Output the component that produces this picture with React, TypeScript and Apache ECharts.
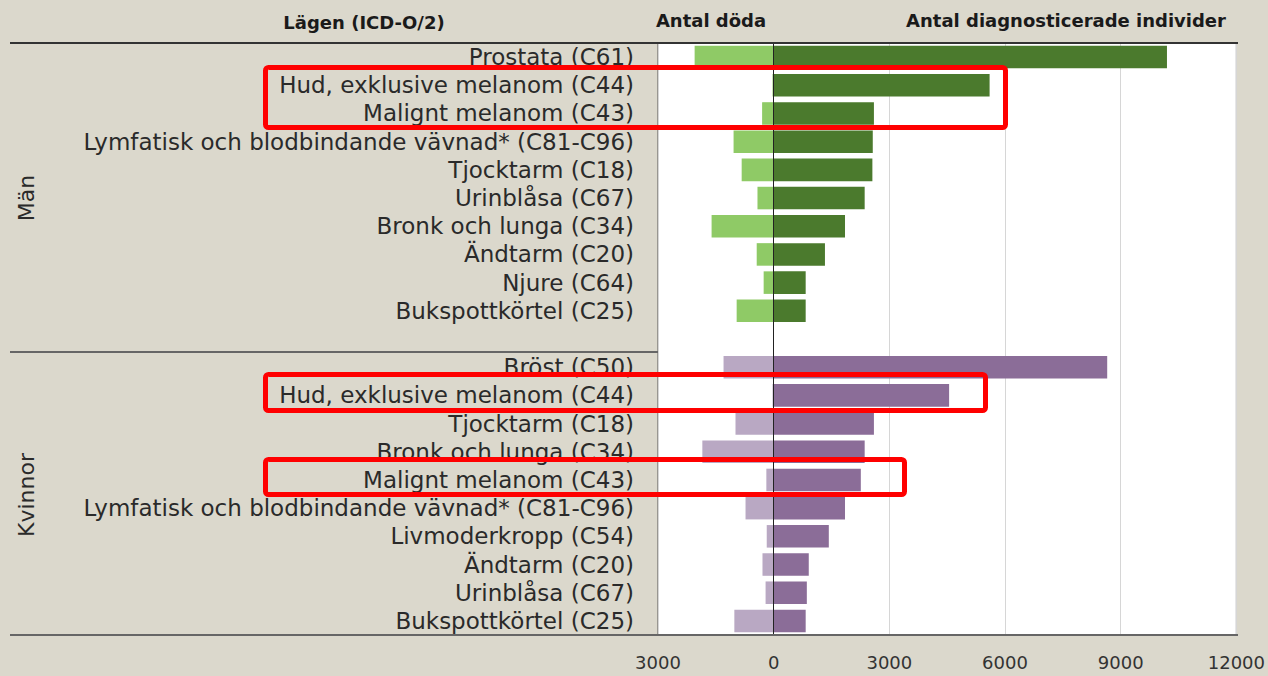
import React, { useEffect, useRef } from "react";
import * as echarts from "echarts";

const menLabels = [
  "Prostata (C61)",
  "Hud, exklusive melanom (C44)",
  "Malignt melanom (C43)",
  "Lymfatisk och blodbindande vävnad* (C81-C96)",
  "Tjocktarm (C18)",
  "Urinblåsa (C67)",
  "Bronk och lunga (C34)",
  "Ändtarm (C20)",
  "Njure (C64)",
  "Bukspottkörtel (C25)",
];
const menDeaths = [2050, 30, 300, 1040, 830, 420, 1610, 440, 260, 960];
const menDiagnosed = [10200, 5600, 2600, 2570, 2560, 2360, 1850, 1330, 830, 830];

const womenLabels = [
  "Bröst (C50)",
  "Hud, exklusive melanom (C44)",
  "Tjocktarm (C18)",
  "Bronk och lunga (C34)",
  "Malignt melanom (C43)",
  "Lymfatisk och blodbindande vävnad* (C81-C96)",
  "Livmoderkropp (C54)",
  "Ändtarm (C20)",
  "Urinblåsa (C67)",
  "Bukspottkörtel (C25)",
];
const womenDeaths = [1300, 30, 990, 1850, 190, 730, 180, 290, 210, 1020];
const womenDiagnosed = [8650, 4550, 2600, 2360, 2260, 1850, 1430, 910, 860, 830];

const xTicks = [-3000, 0, 3000, 6000, 9000, 12000];

const FONT = "'DejaVu Sans', sans-serif";
const BG = "#dbd8cc";

export default function App() {
  const ref = useRef<HTMLDivElement>(null);

  useEffect(() => {
    document.body.style.margin = "0";
    const chart = echarts.init(ref.current!, null, { renderer: "svg" });

    const allLabels = [...menLabels, "", ...womenLabels];
    const ids = allLabels.map((_, i) => "c" + i);
    const blank = (n: number) => Array(n).fill("-");

    const menDeathData = [...menDeaths.map((v) => -v), ...blank(11)];
    const menDiagData = [...menDiagnosed, ...blank(11)];
    const womenDeathData = [...blank(11), ...womenDeaths.map((v) => -v)];
    const womenDiagData = [...blank(11), ...womenDiagnosed];

    const gl = 658, gr = 1238, gt = 43, gb = 635;

    chart.setOption({
      animation: false,
      backgroundColor: BG,
      grid: {
        left: gl,
        right: 1268 - gr,
        top: gt,
        bottom: 676 - gb,
        show: true,
        backgroundColor: "#ffffff",
        borderColor: "#555555",
        borderWidth: 1,
      },
      xAxis: {
        type: "value",
        min: xTicks[0],
        max: xTicks[xTicks.length - 1],
        interval: 3000,
        axisLine: { show: false },
        axisTick: { show: false },
        splitLine: {
          show: true,
          lineStyle: { color: "#d6d6d6", width: 1 },
        },
        axisLabel: {
          margin: 18,
          fontFamily: FONT,
          fontSize: 18,
          color: "#333333",
          formatter: (v: number) => String(Math.abs(v)),
        },
      },
      yAxis: {
        type: "category",
        inverse: true,
        data: ids,
        axisLine: { show: false },
        axisTick: { show: false },
        splitLine: { show: false },
        axisLabel: {
          interval: 0,
          hideOverlap: false,
          margin: 24,
          fontFamily: FONT,
          fontSize: 23,
          color: "#2a2a2a",
          formatter: (v: string) => allLabels[Number(v.slice(1))],
        },
      },
      series: [
        {
          type: "bar",
          stack: "all",
          data: menDeathData,
          barCategoryGap: "20%",
          itemStyle: { color: "#8fca66" },
        },
        {
          type: "bar",
          stack: "all",
          data: menDiagData,
          itemStyle: { color: "#4b7a2d" },
        },
        {
          type: "bar",
          stack: "all",
          data: womenDeathData,
          itemStyle: { color: "#b9a8c3" },
        },
        {
          type: "bar",
          stack: "all",
          data: womenDiagData,
          itemStyle: { color: "#8b6d98" },
          markLine: {
            silent: true,
            symbol: "none",
            label: { show: false },
            lineStyle: { color: "#222222", width: 1, type: "solid" },
            data: [{ xAxis: 0 }],
          },
        },
      ],
      graphic: [
        {
          type: "line",
          shape: { x1: 10, y1: gt, x2: gr, y2: gt },
          style: { stroke: "#333333", lineWidth: 2 },
          z: 50,
        },
        {
          type: "line",
          shape: { x1: 10, y1: 352, x2: gl, y2: 352 },
          style: { stroke: "#666666", lineWidth: 2 },
          z: 50,
        },
        {
          type: "line",
          shape: { x1: 10, y1: gb, x2: gr, y2: gb },
          style: { stroke: "#666666", lineWidth: 2 },
          z: 50,
        },
        {
          type: "text",
          x: 364,
          y: 22,
          style: {
            text: "Lägen (ICD-O/2)",
            font: `bold 18px ${FONT}`,
            fill: "#1a1a1a",
            align: "center",
            verticalAlign: "middle",
          },
        },
        {
          type: "text",
          x: 711,
          y: 20,
          style: {
            text: "Antal döda",
            font: `bold 18px ${FONT}`,
            fill: "#1a1a1a",
            align: "center",
            verticalAlign: "middle",
          },
        },
        {
          type: "text",
          x: 1066,
          y: 20,
          style: {
            text: "Antal diagnosticerade individer",
            font: `bold 18px ${FONT}`,
            fill: "#1a1a1a",
            align: "center",
            verticalAlign: "middle",
          },
        },
        {
          type: "text",
          x: 26,
          y: 198,
          rotation: Math.PI / 2,
          style: {
            text: "Män",
            font: `22px ${FONT}`,
            fill: "#2a2a2a",
            align: "center",
            verticalAlign: "middle",
          },
        },
        {
          type: "text",
          x: 26,
          y: 495,
          rotation: Math.PI / 2,
          style: {
            text: "Kvinnor",
            font: `22px ${FONT}`,
            fill: "#2a2a2a",
            align: "center",
            verticalAlign: "middle",
          },
        },
        {
          type: "rect",
          shape: { x: 265.5, y: 67.5, width: 740, height: 60, r: 3 },
          style: { fill: "none", stroke: "#ff0000", lineWidth: 5 },
          z: 100,
        },
        {
          type: "rect",
          shape: { x: 265.5, y: 374.5, width: 720, height: 36, r: 3 },
          style: { fill: "none", stroke: "#ff0000", lineWidth: 5 },
          z: 100,
        },
        {
          type: "rect",
          shape: { x: 265.5, y: 459.5, width: 639, height: 35, r: 3 },
          style: { fill: "none", stroke: "#ff0000", lineWidth: 5 },
          z: 100,
        },
      ],
    });

    return () => chart.dispose();
  }, []);

  return <div ref={ref} style={{ width: 1268, height: 676 }} />;
}
